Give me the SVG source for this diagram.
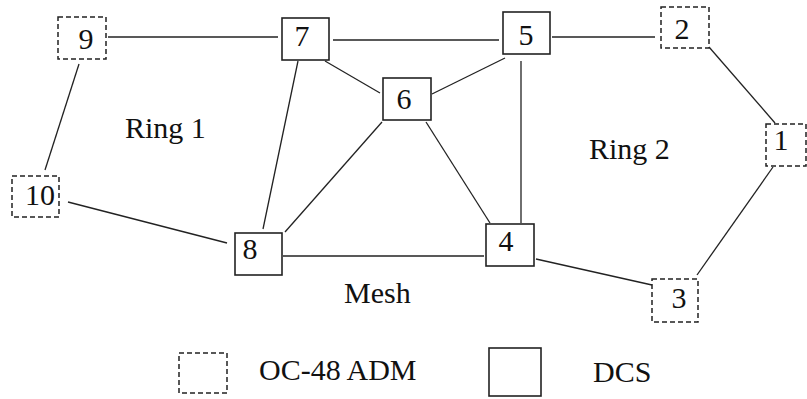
<svg xmlns="http://www.w3.org/2000/svg" width="807" height="399" viewBox="0 0 807 399">
<style>
.adm{fill:#fff;stroke:#222;stroke-width:1.5;stroke-dasharray:5 3}
.dcs{fill:#fff;stroke:#222;stroke-width:1.6}
.lbl{font-family:"Liberation Serif","Times New Roman",serif;font-size:30px;fill:#111;text-anchor:middle}
.txt{font-family:"Liberation Serif","Times New Roman",serif;font-size:30px;fill:#111}
.edges line{stroke:#222;stroke-width:1.3}
</style>
<rect width="807" height="399" fill="#fff"/>
<g id="connectors" class="edges">
<line x1="108" y1="37" x2="278" y2="37"/>
<line x1="333" y1="40" x2="499" y2="40"/>
<line x1="552" y1="37" x2="655" y2="37"/>
<line x1="709" y1="47" x2="775" y2="123"/>
<line x1="773" y1="167" x2="697" y2="275"/>
<line x1="536" y1="259" x2="652" y2="285"/>
<line x1="283" y1="256" x2="484" y2="256"/>
<line x1="68" y1="202" x2="227" y2="243"/>
<line x1="79" y1="64" x2="45" y2="170"/>
<line x1="298" y1="61" x2="263" y2="229"/>
<line x1="325" y1="61" x2="380" y2="93"/>
<line x1="382" y1="122" x2="285" y2="232"/>
<line x1="432" y1="94" x2="505" y2="58"/>
<line x1="521" y1="61" x2="521" y2="223"/>
<line x1="426" y1="122" x2="490" y2="223"/>
</g>
<g id="node1"><rect class="adm" x="766" y="124" width="40" height="42"/><text class="lbl" x="781" y="150">1</text></g>
<g id="node2"><rect class="adm" x="661" y="7" width="48" height="41"/><text class="lbl" x="682" y="39">2</text></g>
<g id="node3"><rect class="adm" x="652" y="279" width="46" height="43"/><text class="lbl" x="679" y="308">3</text></g>
<g id="node4"><rect class="dcs" x="486" y="224" width="48" height="42"/><text class="lbl" x="506" y="251">4</text></g>
<g id="node5"><rect class="dcs" x="503" y="12" width="47" height="42"/><text class="lbl" x="526" y="45">5</text></g>
<g id="node6"><rect class="dcs" x="383" y="78" width="48" height="42"/><text class="lbl" x="404" y="109">6</text></g>
<g id="node7"><rect class="dcs" x="282" y="18" width="47" height="42"/><text class="lbl" x="302" y="46">7</text></g>
<g id="node8"><rect class="dcs" x="235" y="233" width="47" height="42"/><text class="lbl" x="250" y="259">8</text></g>
<g id="node9"><rect class="adm" x="58" y="17" width="48" height="42"/><text class="lbl" x="86" y="49">9</text></g>
<g id="node10"><rect class="adm" x="12" y="176" width="47" height="41"/><text class="lbl" x="40" y="205">10</text></g>
<g id="labels">
<text class="txt" x="125" y="138">Ring 1</text>
<text class="txt" x="589" y="159">Ring 2</text>
<text class="txt" x="344" y="303">Mesh</text>
</g>
<g id="legend">
<rect class="adm" x="179" y="353" width="48" height="40"/>
<text class="txt" x="259" y="380">OC-48 ADM</text>
<rect class="dcs" x="489" y="348" width="52" height="48"/>
<text class="txt" x="593" y="382">DCS</text>
</g>
</svg>
